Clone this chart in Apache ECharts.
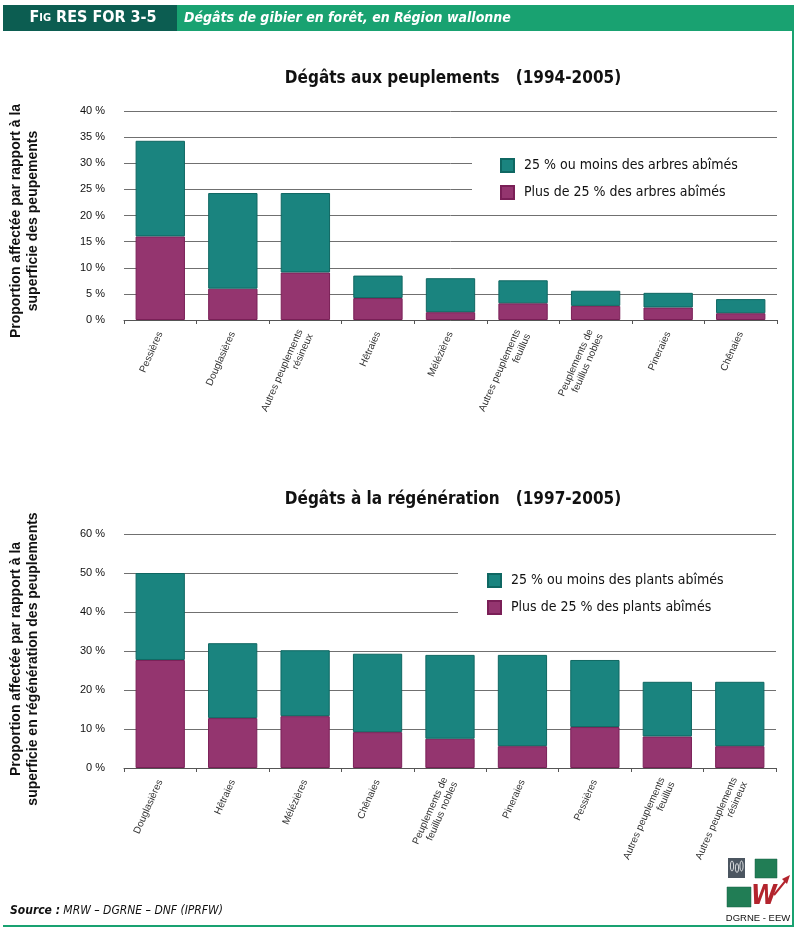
<!DOCTYPE html>
<html>
<head>
<meta charset="utf-8">
<script src="https://cdn.jsdelivr.net/npm/echarts@6/dist/echarts.min.js"></script>
<style>
html,body{margin:0;padding:0;background:#fff;}
#c{width:800px;height:931px;}
</style>
</head>
<body>
<div id="c"></div>
<script>
// ---------- DATA ----------
var topCategories = ['Pessières','Douglasières','Autres peuplements\nrésineux','Hêtraies','Mélézières','Autres peuplements\nfeuillus','Peuplements de\nfeuillus nobles','Pineraies','Chênaies'];
var topLow  = [18.3, 18.3, 15.2, 4.3, 6.5, 4.4, 2.9, 2.8, 2.7];   // 25 % ou moins des arbres abîmés
var topHigh = [16.0, 6.0, 9.1, 4.2, 1.5, 3.2, 2.7, 2.4, 1.3];     // Plus de 25 % des arbres abîmés

var botCategories = ['Douglasières','Hêtraies','Mélézières','Chênaies','Peuplements de\nfeuillus nobles','Pineraies','Pessières','Autres peuplements\nfeuillus','Autres peuplements\nrésineux'];
var botLow  = [22.3, 19.2, 16.9, 20.1, 21.5, 23.4, 17.2, 14.0, 16.5]; // 25 % ou moins des plants abîmés
var botHigh = [27.7, 12.8, 13.3, 9.2, 7.5, 5.6, 10.5, 8.1, 5.6];      // Plus de 25 % des plants abîmés

var topTicks = [0, 5, 10, 15, 20, 25, 30, 35, 40];
var botTicks = [0, 10, 20, 30, 40, 50, 60];

var topSeriesNames = ['25 % ou moins des arbres abîmés', 'Plus de 25 % des arbres abîmés'];
var botSeriesNames = ['25 % ou moins des plants abîmés', 'Plus de 25 % des plants abîmés'];

var titles = ['Dégâts aux peuplements   (1994-2005)', 'Dégâts à la régénération   (1997-2005)'];
var yNames = ['Proportion affectée par rapport à la\nsuperficie des peupements',
              'Proportion affectée par rapport à la\nsuperficie en régénération des peuplements'];

// ---------- STYLE ----------
var TEAL = '#1a847f', TEAL_B = '#0f6762';
var MAG = '#94356f', MAG_B = '#7a1f57';
var GREEN = '#19a271', DARK = '#0c5d51';
var NARROW = "'Liberation Sans Narrow','Arial Narrow','DejaVu Sans Condensed',sans-serif";
var SANS = "'Liberation Sans',Arial,sans-serif";

function xAxisCfg(cats, grid) {
  return {
    type: 'category', gridIndex: grid, data: cats,
    axisLine: {lineStyle: {color: '#555', width: 1}},
    axisTick: {show: true, length: 4, lineStyle: {color: '#555'}},
    axisLabel: {interval: 0, rotate: 66, fontSize: 10, color: '#333', fontFamily: SANS, margin: 12, lineHeight: 11}
  };
}
function yAxisCfg(max, interval, grid, name, namePad) {
  return {
    type: 'value', gridIndex: grid, min: 0, max: max, interval: interval,
    name: name, nameLocation: 'middle', nameGap: 82, nameRotate: 90,
    nameTextStyle: {fontSize: 14, fontWeight: 'bold', color: '#111', fontFamily: SANS, lineHeight: 17, align: 'center', padding: namePad},
    axisLine: {show: false}, axisTick: {show: false},
    axisLabel: {fontSize: 11, color: '#111', fontFamily: SANS, margin: 19, formatter: function (v) { return v + ' %'; }},
    splitLine: {lineStyle: {color: '#707070', width: 1}}
  };
}
function barSeries(name, data, axisIdx, color, border) {
  return {
    name: name, type: 'bar', stack: 's' + axisIdx, xAxisIndex: axisIdx, yAxisIndex: axisIdx,
    data: data, barCategoryGap: '32%',
    itemStyle: {color: color, borderColor: border, borderWidth: 1},
    emphasis: {disabled: true}
  };
}

var option = {
  animation: false,
  backgroundColor: '#fff',
  title: [
    {text: titles[0], left: 448, top: 65, textAlign: 'center',
     textStyle: {fontSize: 17, fontWeight: 'bold', color: '#111', fontFamily: NARROW}},
    {text: titles[1], left: 448, top: 486, textAlign: 'center',
     textStyle: {fontSize: 17, fontWeight: 'bold', color: '#111', fontFamily: NARROW}}
  ],
  legend: [
    {data: [topSeriesNames[0], topSeriesNames[1]], orient: 'vertical', left: 472, top: 141,
     padding: [17, 46, 6, 28], backgroundColor: '#fff', itemWidth: 13, itemHeight: 13, itemGap: 12,
     icon: 'rect', selectedMode: false,
     textStyle: {fontSize: 14, color: '#111', fontFamily: NARROW, padding: [0, 0, 0, 5]}},
    {data: [botSeriesNames[0], botSeriesNames[1]], orient: 'vertical', left: 458, top: 560,
     padding: [13, 60, 8, 29], backgroundColor: '#fff', itemWidth: 13, itemHeight: 13, itemGap: 12,
     icon: 'rect', selectedMode: false,
     textStyle: {fontSize: 14, color: '#111', fontFamily: NARROW, padding: [0, 0, 0, 5]}}
  ],
  grid: [
    {left: 121, right: 23, top: 111, height: 209},
    {left: 122, right: 24, top: 534, height: 234}
  ],
  xAxis: [xAxisCfg(topCategories, 0), xAxisCfg(botCategories, 1)],
  yAxis: [yAxisCfg(topTicks[topTicks.length - 1], topTicks[1] - topTicks[0], 0, yNames[0], [0, 11, 0, 0]),
          yAxisCfg(botTicks[botTicks.length - 1], botTicks[1] - botTicks[0], 1, yNames[1], [0, 16, 0, 0])],
  series: [
    barSeries(topSeriesNames[1], topHigh, 0, MAG, MAG_B),
    barSeries(topSeriesNames[0], topLow, 0, TEAL, TEAL_B),
    barSeries(botSeriesNames[1], botHigh, 1, MAG, MAG_B),
    barSeries(botSeriesNames[0], botLow, 1, TEAL, TEAL_B)
  ],
  graphic: [
    // header bands
    {type: 'rect', z: 100, shape: {x: 3, y: 5, width: 174, height: 26}, style: {fill: DARK}},
    {type: 'rect', z: 100, shape: {x: 177, y: 5, width: 617, height: 26}, style: {fill: GREEN}},
    {type: 'text', z: 101, x: 93, y: 18, style: {
      text: '{a|F}{b|IG}{a| RES FOR 3-5}', align: 'center', verticalAlign: 'middle',
      rich: {a: {fontSize: 16, fontWeight: 'bold', fill: '#fff', fontFamily: NARROW},
             b: {fontSize: 11, fontWeight: 'bold', fill: '#fff', fontFamily: NARROW}}}},
    {type: 'text', z: 101, x: 184, y: 18, style: {
      text: 'Dégâts de gibier en forêt, en Région wallonne', align: 'left', verticalAlign: 'middle',
      fontSize: 14, fontWeight: 'bold', fontStyle: 'italic', fill: '#fff', fontFamily: NARROW}},
    // frame
    {type: 'rect', z: 100, shape: {x: 792, y: 31, width: 2, height: 896}, style: {fill: GREEN}},
    {type: 'rect', z: 100, shape: {x: 3, y: 925, width: 791, height: 2}, style: {fill: GREEN}},
    // source
    {type: 'text', z: 100, x: 10, y: 911, style: {
      text: '{b|Source :} {i|MRW – DGRNE – DNF (IPRFW)}', verticalAlign: 'middle',
      rich: {b: {fontSize: 12, fontWeight: 'bold', fontStyle: 'italic', fill: '#111', fontFamily: NARROW},
             i: {fontSize: 12, fontStyle: 'italic', fill: '#111', fontFamily: NARROW}}}},
    // logo
    {type: 'rect', z: 100, shape: {x: 728, y: 858, width: 17, height: 20}, style: {fill: '#4b5560'}},
    {type: 'ellipse', z: 101, shape: {cx: 732, cy: 866, rx: 1.6, ry: 5}, style: {fill: 'none', stroke: '#fff', lineWidth: 0.8}},
    {type: 'ellipse', z: 101, shape: {cx: 737, cy: 868, rx: 1.6, ry: 4.5}, style: {fill: 'none', stroke: '#fff', lineWidth: 0.8}},
    {type: 'ellipse', z: 101, shape: {cx: 741.5, cy: 866, rx: 1.6, ry: 5}, style: {fill: 'none', stroke: '#fff', lineWidth: 0.8}},
    {type: 'rect', z: 100, shape: {x: 755, y: 859, width: 22, height: 19}, style: {fill: '#217d55', stroke: '#1a6044', lineWidth: 0.5}},
    {type: 'rect', z: 100, shape: {x: 727, y: 887, width: 24, height: 20}, style: {fill: '#217d55', stroke: '#1a6044', lineWidth: 0.5}},
    {type: 'text', z: 101, x: 764, y: 897, style: {text: 'W', align: 'center', verticalAlign: 'middle',
      fontSize: 26, fontWeight: 'bold', fontStyle: 'italic', fill: '#b3242d', fontFamily: NARROW}},
    {type: 'line', z: 101, shape: {x1: 774, y1: 895, x2: 787, y2: 879}, style: {stroke: '#b3242d', lineWidth: 2}},
    {type: 'polygon', z: 101, shape: {points: [[790, 875], [782, 879], [787, 884]]}, style: {fill: '#b3242d'}},
    {type: 'text', z: 100, x: 758, y: 918, style: {text: 'DGRNE - EEW', align: 'center', verticalAlign: 'middle',
      fontSize: 9.5, fill: '#111', fontFamily: SANS}}
  ]
};

var chart = echarts.init(document.getElementById('c'), null, {renderer: 'canvas'});
chart.setOption(option);
</script>
</body>
</html>
